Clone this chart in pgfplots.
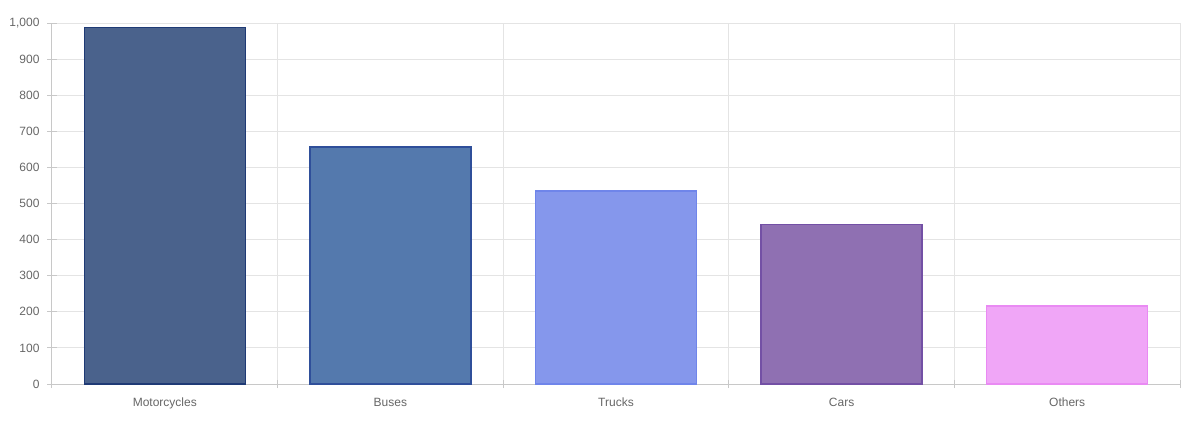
\documentclass[border=0pt]{standalone}
\usepackage{fontspec}
\setmainfont{Liberation Sans}
\usepackage{pgfplots}
\pgfplotsset{compat=1.18}

\definecolor{mfill}{HTML}{4A628C}
\definecolor{mline}{HTML}{1F3A75}
\definecolor{bfill}{HTML}{5479AD}
\definecolor{bline}{HTML}{2F4F9A}
\definecolor{tfill}{HTML}{8597EC}
\definecolor{tline}{HTML}{6F85EA}
\definecolor{cfill}{HTML}{8F70B2}
\definecolor{cline}{HTML}{7350A5}
\definecolor{ofill}{HTML}{F0A6F7}
\definecolor{oline}{HTML}{E98AF3}
\definecolor{gridgray}{HTML}{E4E4E4}
\definecolor{axisgray}{HTML}{C8C8C8}
\definecolor{labelgray}{HTML}{666666}

\begin{document}
\begin{tikzpicture}
% canvas of the reference, 1px = 0.75pt, origin at the axis' lower left corner
\useasboundingbox (-39pt,-31.5pt) rectangle (846.75pt,288pt);
\begin{axis}[
  at={(0,0)}, anchor=south west,
  scale only axis,
  width=846pt, height=270.75pt,
  xmin=-0.5, xmax=4.5,
  ymin=0, ymax=1000,
  ytick distance=100,
  xtick={0,1,2,3,4},
  xticklabels={Motorcycles, Buses, Trucks, Cars, Others},
  minor xtick={-0.5,0.5,1.5,2.5,3.5,4.5},
  major x tick style={draw=none},
  minor tick length=6pt,
  major tick length=6.75pt,
  tick align=outside,
  tick style={axisgray, line width=0.75pt},
  ymajorgrids, xminorgrids,
  grid style={gridgray, line width=0.75pt},
  minor grid style={gridgray, line width=0.75pt},
  axis lines=left,
  axis line style={axisgray, line width=0.75pt, -},
  ticklabel style={font=\fontsize{9}{10}\selectfont, text=labelgray},
  yticklabel style={xshift=-2.5pt},
  xticklabel style={anchor=north, text height=7pt, text depth=2pt, yshift=-3pt},
  /pgf/number format/assume math mode=true,
  /pgf/number format/1000 sep={,},
  scaled y ticks=false,
]
\addplot[ybar, bar width=0.714, bar shift=0pt, fill=mfill, draw=mline, line width=1.1pt] coordinates {(0,987)};
\addplot[ybar, bar width=0.714, bar shift=0pt, fill=bfill, draw=bline, line width=1.1pt] coordinates {(1,657)};
\addplot[ybar, bar width=0.714, bar shift=0pt, fill=tfill, draw=tline, line width=1.1pt] coordinates {(2,535)};
\addplot[ybar, bar width=0.714, bar shift=0pt, fill=cfill, draw=cline, line width=1.1pt] coordinates {(3,442)};
\addplot[ybar, bar width=0.714, bar shift=0pt, fill=ofill, draw=oline, line width=1.1pt] coordinates {(4,216)};
\end{axis}
\end{tikzpicture}
\end{document}
